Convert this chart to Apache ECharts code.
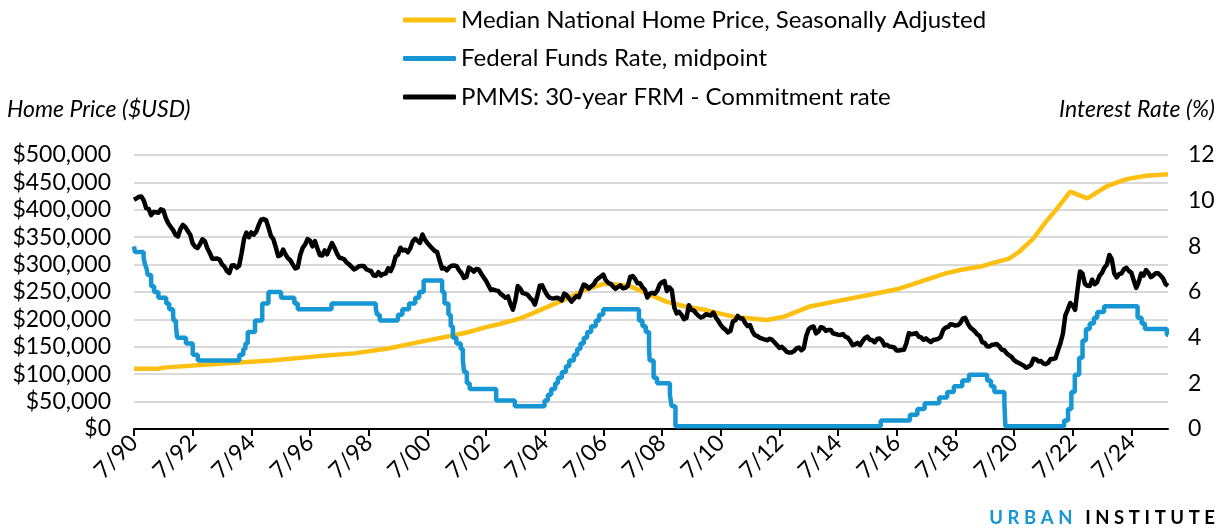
<!DOCTYPE html>
<html>
<head>
<meta charset="utf-8">
<script src="https://cdn.jsdelivr.net/npm/echarts@6/dist/echarts.min.js"></script>
<style>
  html, body { margin: 0; background: #fff; }
  #chart { width: 1230px; height: 529px; }
</style>
</head>
<body>
<div id="chart"></div>
<script>
// x positions are months counted from July 1990
const START = '1990-07'
const X_MAX = 423

const tickLabels = ['7/90', '7/92', '7/94', '7/96', '7/98', '7/00', '7/02', '7/04', '7/06',
  '7/08', '7/10', '7/12', '7/14', '7/16', '7/18', '7/20', '7/22', '7/24']

// median home price
const priceDates = ['1990-07', '1991-05', '1991-07', '1993-06', '1995-03', '1996-11', '1998-01',
  '1999-03', '2000-04', '2001-06', '2001-12', '2002-07', '2003-01', '2003-09', '2004-02',
  '2005-04', '2005-11', '2006-07', '2007-05', '2007-10', '2008-09', '2009-05', '2010-01',
  '2010-12', '2012-02', '2012-09', '2013-07', '2014-05', '2015-07', '2016-08', '2017-02',
  '2018-03', '2018-10', '2019-05', '2019-12', '2020-05', '2020-09', '2021-03', '2021-08',
  '2021-12', '2022-06', '2023-01', '2023-09', '2024-05', '2025-01', '2025-10']
const priceValues = [110000, 110000, 112000, 119000, 125000, 133000, 138000,
  147000, 159000, 171000, 177000, 186000, 192000, 202000, 211000,
  238000, 253000, 265000, 262000, 253000, 232000, 223000, 217000,
  205000, 199000, 205000, 223000, 232000, 244000, 256000, 265000,
  284000, 291000, 296000, 305000, 311000, 323000, 348000, 378000,
  399000, 433000, 421000, 443000, 456000, 462000, 465000]

// fed funds target (midpoint), value holds from the date on
const fedDates = ['1990-07-01', '1990-07-13', '1990-10-29', '1990-11-13', '1990-12-07', '1990-12-19',
  '1991-02-01', '1991-03-08', '1991-04-30', '1991-08-06', '1991-09-13', '1991-10-31', '1991-11-06',
  '1991-12-06', '1991-12-20', '1992-04-09', '1992-07-02', '1992-09-04',
  '1994-02-04', '1994-03-22', '1994-04-18', '1994-05-17', '1994-08-16', '1994-11-15',
  '1995-02-01', '1995-07-06', '1995-12-19', '1996-01-31', '1997-03-25',
  '1998-09-29', '1998-10-15', '1998-11-17', '1999-06-30', '1999-08-24', '1999-11-16',
  '2000-02-02', '2000-03-21', '2000-05-16',
  '2001-01-03', '2001-01-31', '2001-03-20', '2001-04-18', '2001-05-15', '2001-06-27',
  '2001-08-21', '2001-09-17', '2001-10-02', '2001-11-06', '2001-12-11',
  '2002-11-06', '2003-06-25',
  '2004-06-30', '2004-08-10', '2004-09-21', '2004-11-10', '2004-12-14',
  '2005-02-02', '2005-03-22', '2005-05-03', '2005-06-30', '2005-08-09', '2005-09-20',
  '2005-11-01', '2005-12-13', '2006-01-31', '2006-03-28', '2006-05-10', '2006-06-29',
  '2007-09-18', '2007-10-31', '2007-12-11',
  '2008-01-22', '2008-01-30', '2008-03-18', '2008-04-30', '2008-10-08', '2008-10-29', '2008-12-16',
  '2015-12-16', '2016-12-14', '2017-03-15', '2017-06-14', '2017-12-13',
  '2018-03-21', '2018-06-13', '2018-09-26', '2018-12-19',
  '2019-07-31', '2019-09-18', '2019-10-30', '2020-03-03', '2020-03-15',
  '2022-03-16', '2022-05-04', '2022-06-15', '2022-07-27', '2022-09-21', '2022-11-02', '2022-12-14',
  '2023-02-01', '2023-03-22', '2023-05-03', '2023-07-26',
  '2024-09-18', '2024-11-07', '2024-12-18', '2025-09-17', '2025-10-31']
const fedRates = [8.0, 7.75, 7.5, 7.25, 7.0, 6.75,
  6.25, 6.0, 5.75, 5.5, 5.25, 5.0, 4.75,
  4.5, 4.0, 3.75, 3.25, 3.0,
  3.25, 3.5, 3.75, 4.25, 4.75, 5.5,
  6.0, 5.75, 5.5, 5.25, 5.5,
  5.25, 5.0, 4.75, 5.0, 5.25, 5.5,
  5.75, 6.0, 6.5,
  6.0, 5.5, 5.0, 4.5, 4.0, 3.75,
  3.5, 3.0, 2.5, 2.0, 1.75,
  1.25, 1.0,
  1.25, 1.5, 1.75, 2.0, 2.25,
  2.5, 2.75, 3.0, 3.25, 3.5, 3.75,
  4.0, 4.25, 4.5, 4.75, 5.0, 5.25,
  4.75, 4.5, 4.25,
  3.5, 3.0, 2.25, 2.0, 1.5, 1.0, 0.125,
  0.375, 0.625, 0.875, 1.125, 1.375,
  1.625, 1.875, 2.125, 2.375,
  2.125, 1.875, 1.625, 1.125, 0.125,
  0.375, 0.875, 1.625, 2.375, 3.125, 3.875, 4.375,
  4.625, 4.875, 5.125, 5.375,
  4.875, 4.625, 4.375, 4.125, 4.125]

// 30-year fixed mortgage rate, monthly from 1990-07
const mortgageRate = [
  10.04, 10.10, 10.17, 10.18, 10.01, 9.67,
  9.64, 9.37, 9.50, 9.49, 9.47, 9.62, 9.58, 9.24, 9.01, 8.86, 8.71, 8.50,
  8.43, 8.76, 8.94, 8.85, 8.67, 8.51, 8.13, 7.98, 7.92, 8.09, 8.31, 8.22,
  7.92, 7.71, 7.46, 7.46, 7.47, 7.42, 7.21, 7.11, 6.92, 6.83, 7.16, 7.17,
  7.06, 7.15, 7.68, 8.32, 8.60, 8.40, 8.61, 8.51, 8.64, 8.93, 9.17, 9.20,
  9.15, 8.83, 8.46, 8.32, 7.96, 7.57, 7.61, 7.86, 7.64, 7.48, 7.38, 7.20,
  7.03, 7.08, 7.62, 7.93, 8.07, 8.32, 8.25, 8.00, 8.23, 7.92, 7.62, 7.60,
  7.82, 7.65, 7.90, 8.14, 7.94, 7.69, 7.50, 7.48, 7.43, 7.29, 7.21, 7.10,
  6.99, 7.04, 7.13, 7.14, 7.14, 7.00, 6.95, 6.92, 6.72, 6.71, 6.87, 6.72,
  6.79, 6.81, 7.04, 6.92, 7.15, 7.55, 7.63, 7.94, 7.82, 7.85, 7.74, 7.91,
  8.21, 8.33, 8.24, 8.15, 8.52, 8.29, 8.15, 8.03, 7.91, 7.80, 7.75, 7.38,
  7.03, 7.05, 6.95, 7.08, 7.15, 7.16, 7.13, 6.95, 6.82, 6.62, 6.66, 7.07,
  7.00, 6.89, 7.01, 6.99, 6.81, 6.65, 6.49, 6.29, 6.09, 6.11, 6.07, 6.05,
  5.92, 5.84, 5.75, 5.81, 5.48, 5.23, 5.63, 6.26, 6.15, 5.95, 5.93, 5.88,
  5.74, 5.64, 5.45, 5.83, 6.27, 6.29, 6.06, 5.87, 5.75, 5.72, 5.73, 5.75,
  5.71, 5.63, 5.93, 5.86, 5.72, 5.58, 5.70, 5.82, 5.77, 6.07, 6.33, 6.27,
  6.15, 6.25, 6.32, 6.51, 6.60, 6.68, 6.76, 6.52, 6.40, 6.36, 6.24, 6.14,
  6.22, 6.29, 6.16, 6.18, 6.26, 6.66, 6.70, 6.57, 6.38, 6.38, 6.21, 6.10,
  5.76, 5.92, 5.97, 5.92, 6.04, 6.32, 6.43, 6.48, 6.04, 6.20, 6.09, 5.33,
  5.06, 5.13, 5.00, 4.81, 4.86, 5.42, 5.22, 5.19, 5.06, 4.95, 4.88, 4.93,
  5.03, 4.99, 4.97, 5.10, 4.89, 4.74, 4.56, 4.43, 4.35, 4.23, 4.30, 4.71,
  4.76, 4.95, 4.84, 4.84, 4.64, 4.51, 4.55, 4.27, 4.11, 4.07, 3.99, 3.96,
  3.92, 3.89, 3.95, 3.91, 3.80, 3.68, 3.55, 3.60, 3.50, 3.38, 3.35, 3.35,
  3.41, 3.53, 3.57, 3.45, 3.54, 4.07, 4.37, 4.46, 4.49, 4.19, 4.26, 4.46,
  4.43, 4.30, 4.34, 4.34, 4.19, 4.16, 4.13, 4.12, 4.16, 4.04, 4.00, 3.86,
  3.67, 3.71, 3.77, 3.67, 3.84, 3.98, 4.05, 3.91, 3.89, 3.80, 3.94, 3.96,
  3.87, 3.66, 3.69, 3.61, 3.60, 3.57, 3.44, 3.44, 3.46, 3.47, 3.77, 4.20,
  4.15, 4.17, 4.20, 4.05, 4.01, 3.90, 3.97, 3.88, 3.81, 3.90, 3.92, 3.95,
  4.03, 4.33, 4.44, 4.47, 4.59, 4.57, 4.53, 4.55, 4.63, 4.83, 4.87, 4.64,
  4.46, 4.37, 4.27, 4.14, 4.07, 3.80, 3.77, 3.62, 3.61, 3.69, 3.70, 3.72,
  3.62, 3.47, 3.45, 3.31, 3.23, 3.16, 3.02, 2.94, 2.89, 2.83, 2.77, 2.68,
  2.74, 2.81, 3.08, 3.06, 2.96, 2.98, 2.87, 2.84, 2.90, 3.07, 3.07, 3.10,
  3.45, 3.76, 4.17, 4.98, 5.23, 5.52, 5.41, 5.22, 6.11, 6.90, 6.81, 6.36,
  6.27, 6.26, 6.54, 6.34, 6.43, 6.71, 6.84, 7.07, 7.20, 7.62, 7.44, 6.82,
  6.64, 6.78, 6.82, 7.00, 7.06, 6.92, 6.85, 6.50, 6.18, 6.43, 6.81, 6.72,
  6.96, 6.84, 6.65, 6.73, 6.82, 6.82, 6.72, 6.59, 6.35, 6.27
]

const FONT = 'Lato'
const INK = '#000000'

// "YYYY-MM" or "YYYY-MM-DD" -> months since START
function toM(s) {
  const p = s.split('-').map(Number)
  const s0 = START.split('-').map(Number)
  let m = (p[0] - s0[0]) * 12 + (p[1] - s0[1])
  if (p[2]) m += (p[2] - 1) / 30
  return m
}

const priceData = priceDates.map((d, i) => [toM(d), priceValues[i]])
const fedData = fedDates.map((d, i) => [Math.min(toM(d), X_MAX), fedRates[i]])
const mortgageData = mortgageRate.map((v, i) => [i, v])
const tickValues = tickLabels.map((l, i) => i * 24)

// logo: letters placed one by one so they get letter spacing
function logoLetters(words, right, y) {
  const size = 18.5
  const ctx = document.createElement('canvas').getContext('2d')
  ctx.font = 'bold ' + size + 'px ' + FONT
  const spacing = 4.6
  const wordGap = 8
  const widths = words.map(w => [...w.text].map(ch => ctx.measureText(ch).width))
  let total = 0
  widths.forEach((ws, k) => {
    ws.forEach(v => { total += v + spacing })
    total -= spacing
    if (k < widths.length - 1) total += wordGap + spacing
  })
  let cx = right - total
  const out = []
  words.forEach((w, k) => {
    ;[...w.text].forEach((ch, j) => {
      out.push({
        type: 'text', x: cx, y: y,
        style: { text: ch, fill: w.color, fontSize: size, fontWeight: 'bold', fontFamily: FONT, verticalAlign: 'middle' }
      })
      cx += widths[k][j] + spacing
    })
    cx += wordGap
  })
  return out
}
const logo = logoLetters([{ text: 'URBAN', color: '#1696d2' }, { text: 'INSTITUTE', color: INK }], 1215, 518)

const chart = echarts.init(document.getElementById('chart'))

chart.setOption({
  animation: false,
  textStyle: { fontFamily: FONT },
  grid: { left: 134, right: 62, top: 155, bottom: 100 },
  legend: {
    orient: 'vertical',
    left: 398,
    top: 2,
    icon: 'roundRect',
    itemWidth: 53,
    itemHeight: 5,
    itemGap: 12.5,
    textStyle: { fontFamily: FONT, fontSize: 24, color: INK, lineHeight: 26 },
    data: ['Median National Home Price, Seasonally Adjusted', 'Federal Funds Rate, midpoint',
      'PMMS: 30-year FRM - Commitment rate']
  },
  graphic: [
    {
      type: 'text', left: 7, top: 98,
      style: { text: 'Home Price ($USD)', fontFamily: FONT, fontSize: 23, fontStyle: 'italic', fill: INK }
    },
    {
      type: 'text', right: 15, top: 98,
      style: { text: 'Interest Rate (%)', fontFamily: FONT, fontSize: 23, fontStyle: 'italic', fill: INK }
    },
    ...logo
  ],
  xAxis: {
    type: 'value',
    min: 0,
    max: X_MAX,
    axisLine: { show: true, onZero: false, lineStyle: { color: INK, width: 2 } },
    axisTick: { show: true, length: 7, lineStyle: { color: INK, width: 2 }, customValues: tickValues },
    splitLine: { show: false },
    axisLabel: {
      customValues: tickValues,
      rotate: 45,
      margin: 10,
      fontFamily: FONT,
      fontSize: 23,
      color: INK,
      formatter: (v) => tickLabels[Math.round(v / 24)] || ''
    }
  },
  yAxis: [
    {
      type: 'value',
      min: 0,
      max: 500000,
      interval: 50000,
      axisLine: { show: false },
      axisTick: { show: false },
      splitLine: { lineStyle: { color: '#d9d9d9', width: 2 } },
      axisLabel: {
        margin: 23,
        fontFamily: FONT,
        fontSize: 23,
        color: INK,
        formatter: (v) => '$' + v.toLocaleString('en-US')
      }
    },
    {
      type: 'value',
      min: 0,
      max: 12,
      interval: 2,
      axisLine: { show: false },
      axisTick: { show: false },
      splitLine: { show: false },
      axisLabel: { margin: 20, fontFamily: FONT, fontSize: 23, color: INK }
    }
  ],
  series: [
    {
      name: 'Median National Home Price, Seasonally Adjusted',
      type: 'line',
      yAxisIndex: 0,
      data: priceData,
      showSymbol: false,
      color: '#fdbf11',
      lineStyle: { width: 4.5, color: '#fdbf11' }
    },
    {
      name: 'Federal Funds Rate, midpoint',
      type: 'line',
      yAxisIndex: 1,
      step: 'end',
      data: fedData,
      showSymbol: false,
      color: '#1696d2',
      lineStyle: { width: 4.5, color: '#1696d2' }
    },
    {
      name: 'PMMS: 30-year FRM - Commitment rate',
      type: 'line',
      yAxisIndex: 1,
      data: mortgageData,
      showSymbol: false,
      color: INK,
      lineStyle: { width: 4.5, color: INK, join: 'round' }
    }
  ]
})
</script>
</body>
</html>
